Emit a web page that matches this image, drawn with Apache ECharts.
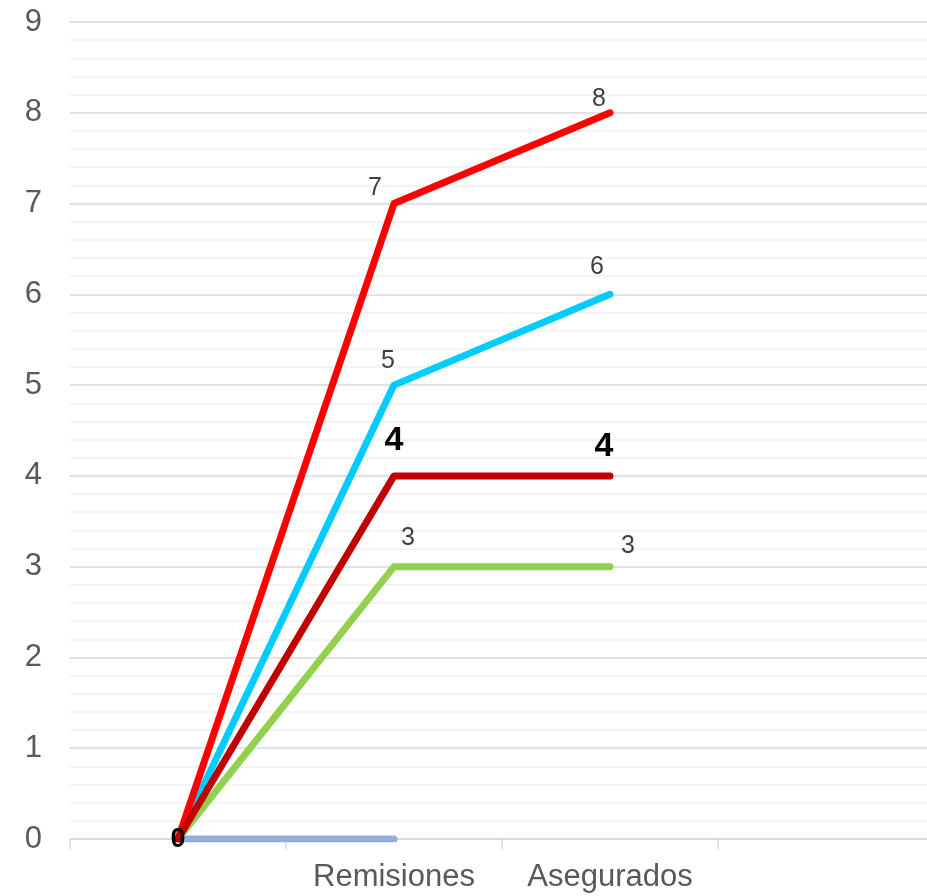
<!DOCTYPE html>
<html>
<head>
<meta charset="utf-8">
<script src="https://cdn.jsdelivr.net/npm/echarts@6/dist/echarts.min.js"></script>
<style>html,body{margin:0;padding:0;background:#fff;overflow:hidden;width:927px;height:896px}#c{width:934px;height:896px}</style>
</head>
<body>
<div id="c"></div>
<script>
const categories = ['', 'Remisiones', 'Asegurados', ''];
const yTicks = [0, 1, 2, 3, 4, 5, 6, 7, 8, 9];
const serieGris = [0, 0, null, null];
const serieVerde = [0, 3, 3, null];
const serieCian = [0, 5, 6, null];
const serieGranate = [0, 4, 4, null];
const serieRoja = [0, 7, 8, null];

const chart = echarts.init(document.getElementById('c'));
const baseLabel = {fontFamily: 'Liberation Sans, Arial, sans-serif', fontSize: 25, color: '#404040'};

function mk(values, offsets, style) {
  return values.map((v, i) => {
    if (v === null) return null;
    const off = offsets[i];
    if (!off) return {value: v, label: {show: false}};
    return {value: v, label: Object.assign({show: true, position: 'inside', offset: off}, baseLabel, style || {})};
  });
}

function line(name, color, data, z) {
  return {
    name, type: 'line', data, symbol: 'circle', symbolSize: 0.1, showSymbol: true, z: z,
    itemStyle: {color: 'rgba(0,0,0,0)'},
    lineStyle: {color, width: 7, cap: 'round', join: 'round'},
    emphasis: {disabled: true}, animation: false
  };
}

const boldStyle = {fontWeight: 'bold', fontSize: 34, color: '#000'};
const zeroStyle = {fontWeight: 'bold', fontSize: 27, color: '#000'};

chart.setOption({
  animation: false,
  grid: {left: 70, right: 0, top: 22, bottom: 57, containLabel: false},
  xAxis: {
    type: 'category', data: categories, boundaryGap: true,
    axisLine: {lineStyle: {color: '#d9d9d9', width: 1.5}},
    axisTick: {show: true, length: 10, lineStyle: {color: '#d9d9d9', width: 1.5}},
    axisLabel: {fontFamily: 'Liberation Sans, Arial, sans-serif', fontSize: 31, color: '#595959', margin: 23, interval: 0}
  },
  yAxis: {
    type: 'value', min: yTicks[0], max: yTicks[yTicks.length - 1], interval: 1,
    axisLine: {show: false}, axisTick: {show: false},
    axisLabel: {fontFamily: 'Liberation Sans, Arial, sans-serif', fontSize: 31, color: '#595959', margin: 28},
    splitLine: {show: true, lineStyle: {color: '#d9d9d9', width: 1.5}},
    minorTick: {show: false, splitNumber: 5},
    minorSplitLine: {show: true, lineStyle: {color: '#f0f0f0', width: 1.5}}
  },
  series: [
    line('Gris', '#93AEDB', mk(serieGris, [null, null]), 2),
    line('Verde', '#92D050', mk(serieVerde, [null, [14, -29], [18, -21]]), 2),
    line('Cian', '#00CCFF', mk(serieCian, [null, [-6, -24], [-13, -27]]), 2),
    line('Granate', '#C00000', serieGranate.map((v, i) => {
      if (v === null) return null;
      if (i === 0) return {value: v, label: Object.assign({show: true, position: 'inside', offset: [0, 1]}, baseLabel, zeroStyle)};
      const off = i === 1 ? [0, -35] : [-6, -29];
      return {value: v, label: Object.assign({show: true, position: 'inside', offset: off}, baseLabel, boldStyle)};
    }), 5),
    line('Roja', '#FF0000', mk(serieRoja, [null, [-19, -15], [-11, -14]]), 4)
  ]
});
</script>
</body>
</html>
